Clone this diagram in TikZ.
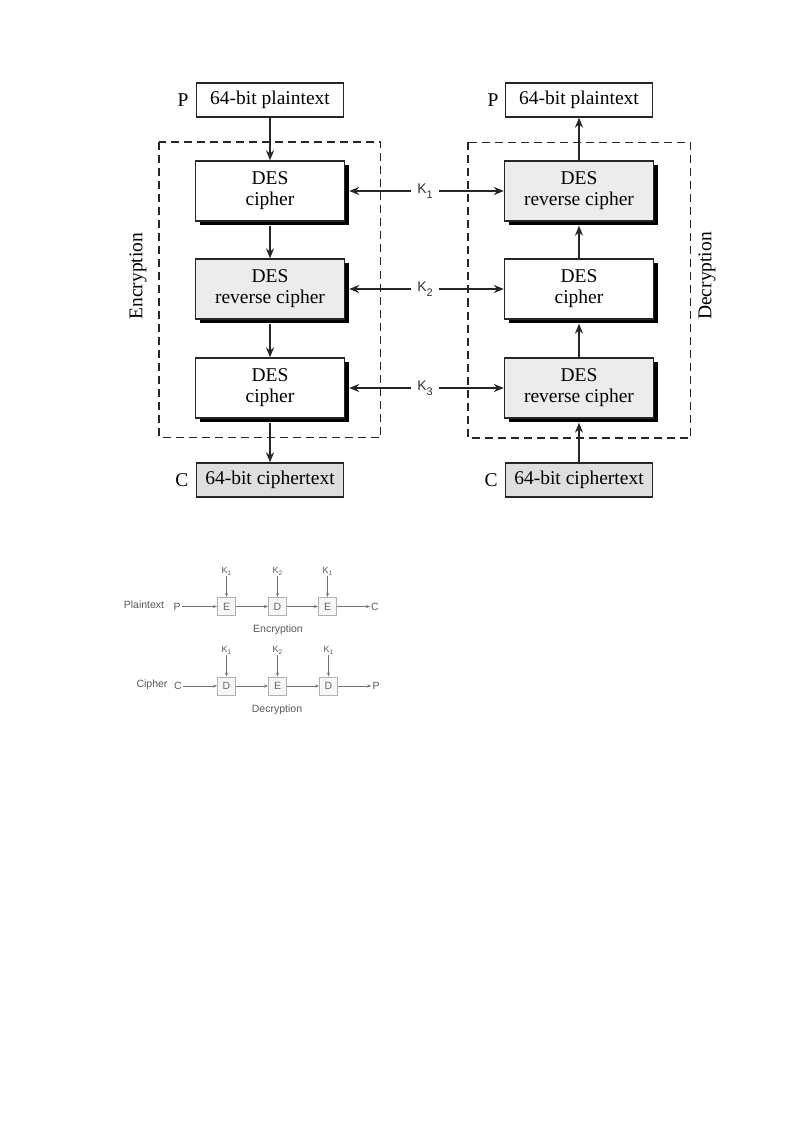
\documentclass[tikz,border=0pt]{standalone}
\usepackage{fontspec}
\setmainfont{Liberation Serif}
\setsansfont{Liberation Sans}
\usetikzlibrary{arrows.meta, shadows}

\begin{document}
\begin{tikzpicture}[x=1pt, y=-1pt,
  line/.style={draw=black!85, line width=1.5pt},
  tip/.style={-{Stealth[length=10pt, width=8pt]}},
  desbox/.style={draw=black!85, line width=1.3pt, fill=white, minimum width=149pt, minimum height=60pt,
    inner sep=0pt, align=center, font=\fontsize{19.5}{21}\selectfont,
    drop shadow={shadow xshift=4pt, shadow yshift=-4pt, fill=black, opacity=1}},
  revbox/.style={desbox, fill=gray!15},
  iobox/.style={draw=black!85, line width=1.3pt, fill=white, minimum width=147pt, minimum height=34pt,
    inner sep=0pt, font=\fontsize{19.5}{21}\selectfont},
  frame/.style={draw=black!85, line width=1.8pt, dash pattern=on 8pt off 5pt},
  keylabel/.style={inner xsep=6pt, inner ysep=2pt, font=\sffamily\fontsize{14}{14}\selectfont, text=black!80},
  txt/.style={font=\fontsize{19.5}{21}\selectfont},
  sline/.style={draw=black!55, line width=0.7pt},
  stip/.style={-{Stealth[length=4pt, width=3pt]}},
  sbox/.style={draw=black!30, line width=0.9pt, fill=gray!6, minimum size=18pt, inner sep=0pt,
    font=\sffamily\fontsize{10.5}{10.5}\selectfont, text=black!60},
  stxt/.style={inner sep=1pt, font=\sffamily\fontsize{10.5}{10.5}\selectfont, text=black!65},
  skey/.style={inner sep=1pt, font=\sffamily\fontsize{9}{9}\selectfont, text=black!65}
]
\fill[white] (0,0) rectangle (800,1131);
\useasboundingbox (0,0) rectangle (800,1131);

% triple DES, encryption side
\draw[frame] (159,142) rectangle (380.5,437.5);
\node[iobox] (ptl) at (270,100) {64-bit plaintext};
\node[txt] (pl) at (183,100) {P};
\node[desbox] (e1) at (270,191) {DES\\cipher};
\node[revbox] (e2) at (270,289) {DES\\reverse cipher};
\node[desbox] (e3) at (270,388) {DES\\cipher};
\node[iobox, fill=gray!25] (ctl) at (270,480) {64-bit ciphertext};
\node[txt] (cl) at (182,480) {C};
\node[txt, rotate=90] (enc) at (138,276) {Encryption};

% triple DES, decryption side
\draw[frame] (468,142.5) rectangle (690.5,438);
\node[iobox] (ptr) at (579,100) {64-bit plaintext};
\node[txt] (pr) at (493,100) {P};
\node[revbox] (d1) at (579,191) {DES\\reverse cipher};
\node[desbox] (d2) at (579,289) {DES\\cipher};
\node[revbox] (d3) at (579,388) {DES\\reverse cipher};
\node[iobox, fill=gray!25] (ctr) at (579,480) {64-bit ciphertext};
\node[txt] (cr) at (491,480) {C};
\node[txt, rotate=90] (dec) at (707,276) {Decryption};

% keys
\node[keylabel] (k1) at (425,191) {K\raisebox{-5pt}{\fontsize{11}{11}\selectfont 1}};
\node[keylabel] (k2) at (425,289) {K\raisebox{-5pt}{\fontsize{11}{11}\selectfont 2}};
\node[keylabel] (k3) at (425,388) {K\raisebox{-5pt}{\fontsize{11}{11}\selectfont 3}};
\draw[line, tip] (k1) -- ([xshift=4pt]e1.east);
\draw[line, tip] (k1) -- (d1.west);
\draw[line, tip] (k2) -- ([xshift=4pt]e2.east);
\draw[line, tip] (k2) -- (d2.west);
\draw[line, tip] (k3) -- ([xshift=4pt]e3.east);
\draw[line, tip] (k3) -- (d3.west);

% data flow
\draw[line, tip] (ptl.south) -- (e1.north);
\draw[line, tip] ([yshift=-4pt]e1.south) -- (e2.north);
\draw[line, tip] ([yshift=-4pt]e2.south) -- (e3.north);
\draw[line, tip] ([yshift=-4pt]e3.south) -- (ctl.north);
\draw[line, tip] (ctr.north) -- ([yshift=-4pt]d3.south);
\draw[line, tip] (d3.north) -- ([yshift=-4pt]d2.south);
\draw[line, tip] (d2.north) -- ([yshift=-4pt]d1.south);
\draw[line, tip] (d1.north) -- (ptr.south);

% EDE chain, encryption
\node[stxt] (plain) at (144,605) {Plaintext};
\node[stxt] (sp1) at (177,606.5) {P};
\node[sbox] (se1) at (226.5,606.5) {E};
\node[sbox] (sd1) at (277.5,606.5) {D};
\node[sbox] (se2) at (327.5,606.5) {E};
\node[stxt] (sc1) at (375,606.5) {C};
\node[skey] (sk1) at (226.5,571) {K\raisebox{-2pt}{\fontsize{6.5}{6.5}\selectfont 1}};
\node[skey] (sk2) at (277.5,571) {K\raisebox{-2pt}{\fontsize{6.5}{6.5}\selectfont 2}};
\node[skey] (sk3) at (327.5,571) {K\raisebox{-2pt}{\fontsize{6.5}{6.5}\selectfont 1}};
\node[stxt] (senc) at (278,630) {Encryption};
\draw[sline, stip] (sp1) -- (se1);
\draw[sline, stip] (se1) -- (sd1);
\draw[sline, stip] (sd1) -- (se2);
\draw[sline, stip] (se2) -- (sc1);
\draw[sline, stip] (sk1) -- (se1);
\draw[sline, stip] (sk2) -- (sd1);
\draw[sline, stip] (sk3) -- (se2);

% EDE chain, decryption
\node[stxt] (ciph) at (152,685) {Cipher};
\node[stxt] (sc2) at (178,686) {C};
\node[sbox] (sd2) at (226.5,686) {D};
\node[sbox] (se3) at (277.5,686) {E};
\node[sbox] (sd3) at (328.5,686) {D};
\node[stxt] (sp2) at (376,686) {P};
\node[skey] (sk4) at (226.5,650) {K\raisebox{-2pt}{\fontsize{6.5}{6.5}\selectfont 1}};
\node[skey] (sk5) at (277.5,650) {K\raisebox{-2pt}{\fontsize{6.5}{6.5}\selectfont 2}};
\node[skey] (sk6) at (328.5,650) {K\raisebox{-2pt}{\fontsize{6.5}{6.5}\selectfont 1}};
\node[stxt] (sdec) at (277,710) {Decryption};
\draw[sline, stip] (sc2) -- (sd2);
\draw[sline, stip] (sd2) -- (se3);
\draw[sline, stip] (se3) -- (sd3);
\draw[sline, stip] (sd3) -- (sp2);
\draw[sline, stip] (sk4) -- (sd2);
\draw[sline, stip] (sk5) -- (se3);
\draw[sline, stip] (sk6) -- (sd3);
\end{tikzpicture}
\end{document}
